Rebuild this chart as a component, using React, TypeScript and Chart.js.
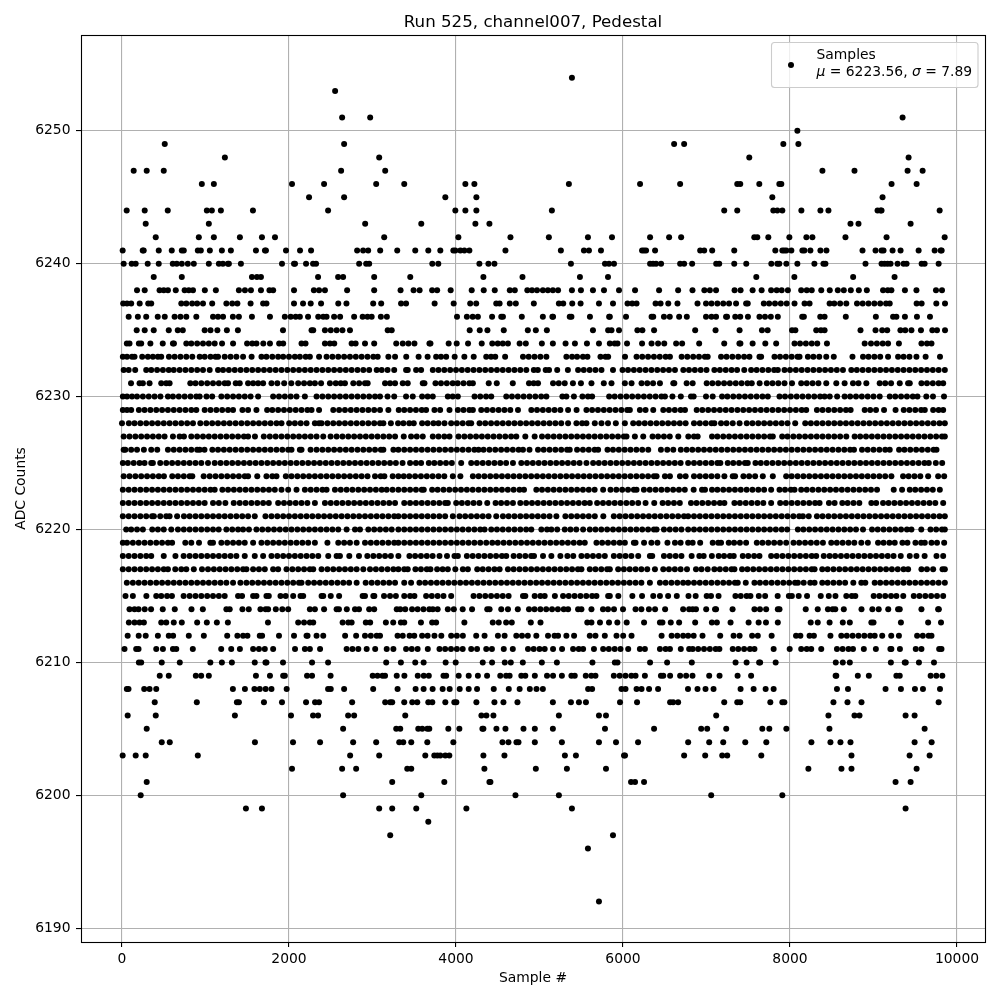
import React, { useEffect, useRef } from "react";
import { Chart, registerables } from "chart.js";

Chart.register(...registerables);

const chartTitle = "Run 525, channel007, Pedestal";
const xLabel = "Sample #";
const yLabel = "ADC Counts";
const seriesName = "Samples";
const muText = "6223.56";
const sigmaText = "7.89";
const xTicks = [0, 2000, 4000, 6000, 8000, 10000];
const yTicks = [6190, 6200, 6210, 6220, 6230, 6240, 6250];

const s6254 = [5388];
const s6253 = [2552];
const s6251 = [2636, 2972, 9348];
const s6250 = [8088];
const s6249 = [512, 2660, 6612, 6732, 7920, 8100];
const s6248 = [1232, 3080, 7512, 9420];
const s6247 = [140, 296, 500, 2624, 3152, 8388, 8772, 9408, 9588];
const s6246 = [956, 1100, 2036, 2420, 3044, 3380, 4112, 4220, 5352, 6204, 6684, 7368, 7404, 7632, 7872, 7896, 9216, 9516];
const s6245 = [2240, 2660, 3872, 4244, 7788, 9108];
const s6244 = [56, 272, 548, 1016, 1076, 1184, 1568, 2468, 3992, 4112, 4244, 5148, 7212, 7368, 7800, 7848, 7908, 8136, 8364, 8460, 9048, 9084, 9096, 9792];
const s6243 = [284, 1040, 2912, 3584, 4232, 4400, 8724, 8820, 9444];
const s6242 = [404, 920, 1100, 1412, 1676, 1832, 3140, 4028, 4652, 5112, 5580, 5868, 6324, 6552, 6696, 7572, 7608, 7740, 7992, 8196, 8268, 8664, 9156, 9852];
const s6241 = [8, 248, 260, 440, 596, 716, 740, 908, 944, 1052, 1196, 1304, 1604, 1712, 1724, 1964, 2132, 2264, 2816, 2888, 2948, 3092, 3296, 3512, 3668, 3812, 3968, 3992, 4052, 4100, 4160, 4592, 5256, 5532, 5592, 5736, 6228, 6252, 6276, 6384, 6924, 6972, 7068, 7332, 7824, 7908, 7932, 7956, 8016, 8148, 8172, 8244, 8364, 8436, 8868, 9024, 9096, 9120, 9228, 9324, 9540, 9732, 9804, 9816];
const s6240 = [20, 116, 164, 308, 440, 608, 656, 716, 788, 860, 1040, 1160, 1208, 1268, 1280, 1424, 1916, 2060, 2072, 2204, 2288, 2324, 2840, 2924, 2960, 3716, 3788, 4280, 4388, 4460, 5376, 5784, 5832, 5892, 6324, 6360, 6396, 6456, 6684, 6732, 6828, 7116, 7152, 7332, 7476, 7776, 7848, 7872, 7956, 8088, 8292, 8400, 8424, 8904, 9096, 9132, 9168, 9204, 9288, 9360, 9396, 9576, 9612, 9780];
const s6239 = [380, 716, 1556, 1616, 1664, 2348, 2588, 2648, 3020, 3452, 4328, 4796, 5484, 5820, 7596, 8052, 8756, 9252];
const s6238 = [180, 272, 450, 500, 550, 644, 750, 800, 850, 992, 1124, 1400, 1472, 1544, 1664, 1766, 1810, 2060, 2298, 2360, 2430, 2696, 3020, 3336, 3492, 3564, 3714, 3774, 3936, 4188, 4332, 4464, 4644, 4704, 4854, 4910, 4970, 5040, 5100, 5160, 5222, 5388, 5496, 5640, 5772, 5952, 6144, 6432, 6660, 6832, 6974, 7040, 7114, 7336, 7408, 7552, 7660, 7774, 7840, 7900, 7974, 8134, 8200, 8260, 8374, 8476, 8572, 8644, 8728, 8824, 8920, 9114, 9170, 9214, 9376, 9514, 9748, 9820];
const s6237 = [14, 60, 110, 212, 314, 350, 710, 770, 840, 900, 970, 1080, 1250, 1320, 1382, 1540, 1690, 1730, 2060, 2168, 2260, 2384, 2590, 2688, 3008, 3104, 3342, 3402, 3744, 3972, 4170, 4242, 4482, 4522, 4644, 4716, 4932, 5232, 5284, 5392, 5492, 5712, 5880, 6054, 6110, 6162, 6390, 6450, 6542, 6652, 6892, 6994, 7060, 7130, 7200, 7270, 7354, 7474, 7494, 7686, 7750, 7820, 7890, 7960, 8054, 8174, 8234, 8474, 8530, 8600, 8674, 8802, 8870, 8940, 9010, 9080, 9150, 9194, 9516, 9576, 9752, 9856];
const s6236 = [80, 190, 290, 428, 512, 630, 700, 770, 890, 1090, 1150, 1210, 1328, 1400, 1556, 1772, 1950, 2020, 2080, 2130, 2228, 2350, 2410, 2450, 2540, 2612, 2780, 2882, 2940, 2990, 3100, 3172, 4012, 4130, 4200, 4262, 4432, 4542, 4562, 4788, 5040, 5154, 5162, 5362, 5382, 5604, 5834, 5842, 6036, 6342, 6362, 6490, 6560, 6672, 6764, 6994, 7060, 7114, 7234, 7246, 7344, 7404, 7496, 7634, 7700, 7770, 7854, 8146, 8166, 8362, 8414, 8668, 9028, 9234, 9274, 9376, 9520, 9676];
const s6235 = [176, 272, 380, 560, 668, 728, 990, 1060, 1142, 1256, 1388, 1928, 2270, 2290, 2430, 2500, 2570, 2640, 2730, 3182, 3230, 4164, 4284, 4376, 4572, 4860, 4956, 5088, 5640, 5822, 5862, 5952, 6172, 6232, 6372, 6864, 7108, 7396, 7664, 7732, 8024, 8064, 8314, 8370, 8414, 8844, 9024, 9104, 9164, 9322, 9380, 9454, 9568, 9704, 9760, 9856];
const s6234 = [58, 90, 202, 230, 340, 488, 610, 622, 770, 830, 900, 970, 1040, 1110, 1198, 1330, 1498, 1560, 1610, 1692, 1772, 1882, 1930, 2150, 2198, 2430, 2490, 2542, 2750, 2798, 2910, 3020, 3284, 3362, 3430, 3502, 3682, 3694, 3912, 4008, 4144, 4308, 4434, 4500, 4560, 4622, 4762, 4836, 5028, 5160, 5312, 5424, 5568, 5712, 5842, 5900, 5934, 6048, 6228, 6342, 6420, 6494, 6636, 6708, 6912, 7212, 7394, 7406, 7552, 7704, 7834, 8054, 8120, 8190, 8260, 8326, 8442, 8894, 8970, 9040, 9110, 9174, 9304, 9574, 9640, 9694];
const s6233 = [10, 60, 120, 150, 242, 310, 370, 430, 470, 562, 630, 700, 770, 842, 930, 990, 1060, 1120, 1150, 1230, 1300, 1370, 1450, 1552, 1670, 1730, 1800, 1870, 1930, 2000, 2070, 2130, 2200, 2250, 2360, 2450, 2520, 2590, 2660, 2730, 2800, 2870, 2940, 3010, 3062, 3190, 3270, 3404, 3552, 3660, 3762, 3820, 3882, 3984, 4100, 4212, 4362, 4420, 4470, 4588, 4802, 4870, 4940, 5010, 5082, 5322, 5390, 5450, 5520, 5574, 5730, 5790, 5822, 6024, 6162, 6230, 6300, 6370, 6440, 6510, 6562, 6702, 6770, 6840, 6910, 6980, 7014, 7174, 7240, 7310, 7380, 7450, 7514, 7634, 7654, 7814, 7880, 7950, 8020, 8090, 8114, 8214, 8280, 8350, 8434, 8524, 8748, 8874, 8940, 9010, 9080, 9174, 9294, 9360, 9430, 9514, 9624, 9796];
const s6232 = [20, 80, 158, 290, 350, 420, 490, 560, 620, 690, 760, 830, 900, 970, 1050, 1150, 1210, 1280, 1350, 1420, 1490, 1560, 1630, 1700, 1770, 1840, 1910, 1980, 2050, 2120, 2190, 2260, 2330, 2400, 2470, 2540, 2610, 2680, 2750, 2820, 2890, 2960, 3050, 3110, 3180, 3260, 3402, 3422, 3522, 3582, 3722, 3790, 3860, 3930, 4000, 4070, 4140, 4210, 4280, 4350, 4420, 4490, 4560, 4630, 4700, 4770, 4842, 4932, 4980, 5074, 5114, 5212, 5340, 5462, 5530, 5600, 5670, 5742, 5880, 5994, 6060, 6130, 6200, 6270, 6340, 6410, 6480, 6550, 6622, 6722, 6790, 6860, 6930, 7000, 7094, 7160, 7230, 7300, 7366, 7452, 7534, 7600, 7670, 7740, 7810, 7854, 7934, 8000, 8070, 8140, 8210, 8280, 8350, 8420, 8490, 8560, 8634, 8734, 8800, 8870, 8940, 9010, 9080, 9150, 9220, 9290, 9360, 9430, 9500, 9570, 9640, 9710, 9780, 9854];
const s6231 = [108, 210, 250, 330, 470, 530, 570, 818, 880, 950, 1020, 1090, 1160, 1230, 1270, 1362, 1410, 1510, 1570, 1630, 1690, 1790, 1860, 1942, 2028, 2110, 2180, 2250, 2310, 2384, 2490, 2560, 2620, 2670, 2770, 2840, 2910, 2942, 3150, 3210, 3270, 3362, 3422, 3602, 3622, 3754, 3820, 3890, 3960, 4020, 4090, 4160, 4202, 4392, 4488, 4680, 4874, 4930, 4982, 5162, 5230, 5302, 5400, 5496, 5622, 5770, 5862, 6022, 6102, 6222, 6290, 6360, 6442, 6602, 6614, 6762, 6834, 7002, 7070, 7140, 7210, 7280, 7350, 7420, 7490, 7542, 7636, 7722, 7790, 7860, 7934, 8024, 8134, 8200, 8270, 8340, 8434, 8554, 8654, 8754, 8820, 8914, 9074, 9140, 9210, 9314, 9414, 9434, 9574, 9640, 9710, 9780, 9834];
const s6230 = [10, 60, 120, 180, 250, 320, 390, 460, 550, 610, 680, 750, 820, 890, 930, 1012, 1080, 1190, 1260, 1330, 1400, 1470, 1540, 1630, 1810, 1880, 1950, 2020, 2090, 2190, 2330, 2400, 2470, 2540, 2610, 2680, 2750, 2820, 2890, 2960, 3030, 3090, 3180, 3260, 3402, 3482, 3594, 3660, 3722, 3902, 3960, 4022, 4222, 4290, 4360, 4422, 4602, 4670, 4740, 4810, 4880, 4950, 5020, 5082, 5274, 5322, 5412, 5514, 5580, 5630, 5834, 5900, 5970, 6040, 6110, 6180, 6250, 6320, 6390, 6460, 6502, 6592, 6692, 6814, 6846, 6994, 7074, 7186, 7250, 7320, 7390, 7460, 7530, 7600, 7670, 7734, 7874, 7940, 8010, 8080, 8150, 8220, 8290, 8360, 8414, 8476, 8564, 8654, 8720, 8790, 8860, 8930, 9000, 9074, 9194, 9260, 9330, 9400, 9470, 9526, 9632, 9712, 9844];
const s6229 = [10, 60, 110, 202, 270, 340, 410, 480, 550, 620, 690, 760, 830, 890, 990, 1060, 1130, 1200, 1270, 1330, 1442, 1510, 1610, 1738, 1800, 1870, 1940, 2010, 2080, 2150, 2220, 2270, 2360, 2530, 2600, 2670, 2740, 2810, 2880, 2950, 3020, 3090, 3190, 3314, 3380, 3450, 3520, 3590, 3642, 3742, 3810, 3922, 4022, 4090, 4160, 4202, 4302, 4370, 4440, 4510, 4580, 4650, 4742, 4902, 4970, 5040, 5110, 5180, 5250, 5342, 5444, 5562, 5630, 5700, 5770, 5840, 5910, 5980, 6050, 6082, 6202, 6270, 6362, 6482, 6550, 6620, 6690, 6742, 6882, 6950, 7020, 7090, 7160, 7230, 7300, 7370, 7440, 7510, 7580, 7650, 7720, 7790, 7860, 7930, 8000, 8070, 8140, 8194, 8322, 8390, 8460, 8530, 8600, 8670, 8726, 8894, 8960, 9030, 9126, 9264, 9362, 9430, 9500, 9570, 9614, 9714, 9780, 9834];
const s6228 = [0, 82, 150, 220, 290, 360, 430, 500, 570, 640, 710, 780, 850, 938, 1010, 1080, 1150, 1220, 1290, 1360, 1430, 1500, 1570, 1640, 1710, 1780, 1850, 1910, 2002, 2070, 2140, 2210, 2310, 2360, 2390, 2460, 2530, 2600, 2670, 2740, 2810, 2880, 2950, 3020, 3090, 3130, 3220, 3306, 3370, 3440, 3494, 3594, 3660, 3730, 3790, 3862, 3942, 4010, 4080, 4150, 4182, 4282, 4350, 4420, 4490, 4560, 4630, 4700, 4770, 4840, 4910, 4980, 5050, 5120, 5190, 5260, 5342, 5442, 5510, 5562, 5662, 5742, 5820, 5914, 6022, 6122, 6190, 6260, 6330, 6400, 6470, 6540, 6610, 6680, 6750, 6850, 6920, 6990, 7060, 7094, 7174, 7240, 7314, 7396, 7482, 7550, 7620, 7690, 7760, 7830, 7900, 7970, 8062, 8182, 8250, 8320, 8390, 8460, 8530, 8600, 8670, 8740, 8810, 8880, 8950, 9020, 9090, 9160, 9230, 9300, 9370, 9440, 9510, 9580, 9650, 9720, 9790, 9854];
const s6227 = [20, 90, 160, 230, 300, 370, 440, 510, 610, 690, 742, 830, 900, 970, 1040, 1110, 1180, 1250, 1320, 1390, 1460, 1510, 1592, 1698, 1770, 1840, 1910, 1980, 2050, 2120, 2190, 2260, 2330, 2410, 2498, 2570, 2640, 2710, 2780, 2850, 2920, 2990, 3060, 3130, 3200, 3270, 3374, 3462, 3530, 3602, 3722, 3790, 3860, 3922, 4030, 4100, 4170, 4240, 4310, 4380, 4450, 4520, 4590, 4660, 4722, 4830, 4942, 5030, 5100, 5170, 5240, 5310, 5380, 5450, 5520, 5590, 5660, 5730, 5800, 5870, 5940, 6010, 6042, 6142, 6242, 6354, 6420, 6490, 6560, 6662, 6782, 6850, 6894, 7066, 7130, 7200, 7270, 7340, 7410, 7480, 7550, 7620, 7690, 7760, 7794, 7906, 7970, 8040, 8110, 8180, 8250, 8320, 8390, 8460, 8530, 8600, 8674, 8774, 8840, 8910, 8980, 9050, 9120, 9190, 9260, 9330, 9400, 9470, 9540, 9610, 9680, 9750, 9820, 9854];
const s6226 = [20, 40, 110, 180, 262, 350, 422, 550, 620, 690, 760, 830, 900, 930, 988, 1082, 1150, 1220, 1290, 1360, 1430, 1500, 1570, 1640, 1710, 1780, 1850, 1920, 1990, 2030, 2130, 2150, 2258, 2330, 2400, 2470, 2540, 2610, 2680, 2750, 2820, 2890, 2960, 3030, 3100, 3130, 3250, 3310, 3380, 3450, 3520, 3590, 3660, 3730, 3800, 3870, 3940, 4010, 4080, 4150, 4220, 4270, 4330, 4400, 4470, 4540, 4610, 4680, 4750, 4802, 4880, 4982, 5050, 5120, 5190, 5260, 5330, 5362, 5450, 5520, 5590, 5660, 5702, 5814, 5880, 5950, 6020, 6090, 6160, 6230, 6302, 6454, 6530, 6602, 6692, 6762, 6830, 6900, 6970, 7040, 7110, 7180, 7250, 7320, 7390, 7460, 7530, 7600, 7670, 7740, 7810, 7880, 7950, 8020, 8090, 8160, 8230, 8300, 8370, 8440, 8510, 8580, 8650, 8720, 8766, 8862, 8930, 9000, 9070, 9140, 9194, 9306, 9370, 9440, 9510, 9580, 9650, 9720, 9754];
const s6225 = [10, 70, 140, 210, 270, 350, 370, 458, 530, 600, 670, 740, 810, 880, 950, 1030, 1110, 1180, 1250, 1320, 1390, 1460, 1530, 1600, 1670, 1740, 1810, 1880, 1950, 2020, 2090, 2160, 2230, 2300, 2370, 2440, 2510, 2580, 2650, 2720, 2790, 2860, 2930, 3000, 3070, 3140, 3210, 3280, 3360, 3450, 3520, 3582, 3674, 3740, 3810, 3880, 3950, 4062, 4182, 4250, 4320, 4390, 4460, 4530, 4600, 4682, 4782, 4850, 4920, 4990, 5060, 5130, 5200, 5270, 5340, 5410, 5480, 5562, 5642, 5710, 5780, 5850, 5920, 5990, 6060, 6130, 6200, 6270, 6340, 6410, 6480, 6550, 6620, 6690, 6780, 6850, 6920, 6990, 7060, 7130, 7166, 7254, 7320, 7390, 7460, 7494, 7586, 7650, 7720, 7790, 7860, 7930, 8000, 8070, 8140, 8210, 8280, 8350, 8420, 8490, 8560, 8630, 8700, 8770, 8840, 8910, 8980, 9050, 9120, 9190, 9260, 9330, 9400, 9470, 9540, 9610, 9662, 9746, 9822];
const s6224 = [20, 90, 160, 230, 300, 370, 440, 502, 602, 670, 740, 810, 842, 978, 1050, 1120, 1190, 1260, 1330, 1400, 1470, 1510, 1620, 1730, 1800, 1850, 1962, 2030, 2100, 2170, 2240, 2310, 2380, 2450, 2520, 2590, 2660, 2730, 2800, 2870, 2940, 3030, 3098, 3142, 3242, 3310, 3374, 3440, 3510, 3580, 3650, 3720, 3790, 3860, 3962, 4052, 4202, 4270, 4340, 4410, 4480, 4550, 4620, 4690, 4760, 4830, 4900, 4970, 5040, 5110, 5180, 5250, 5320, 5390, 5460, 5530, 5600, 5670, 5740, 5810, 5880, 5950, 6020, 6090, 6160, 6230, 6300, 6370, 6402, 6502, 6562, 6682, 6750, 6850, 6920, 6990, 7060, 7130, 7214, 7314, 7342, 7442, 7510, 7582, 7674, 7794, 7954, 8020, 8090, 8160, 8230, 8300, 8370, 8440, 8510, 8580, 8650, 8720, 8790, 8860, 8930, 9000, 9070, 9140, 9214, 9354, 9420, 9490, 9560, 9654, 9774, 9846];
const s6223 = [10, 80, 150, 220, 290, 360, 430, 500, 570, 640, 710, 780, 850, 920, 990, 1060, 1110, 1202, 1270, 1340, 1410, 1480, 1550, 1620, 1690, 1760, 1830, 1910, 1990, 2090, 2190, 2260, 2330, 2400, 2450, 2550, 2620, 2690, 2760, 2830, 2900, 2970, 3040, 3110, 3170, 3240, 3310, 3380, 3450, 3520, 3590, 3614, 3714, 3780, 3850, 3920, 3990, 4060, 4130, 4200, 4270, 4340, 4410, 4480, 4550, 4620, 4690, 4760, 4814, 4962, 5030, 5100, 5170, 5240, 5310, 5380, 5450, 5520, 5590, 5660, 5762, 5850, 5920, 5990, 6060, 6130, 6162, 6250, 6320, 6390, 6460, 6530, 6600, 6670, 6740, 6846, 6946, 6982, 7066, 7130, 7200, 7270, 7340, 7410, 7480, 7550, 7620, 7690, 7774, 7874, 7940, 8010, 8054, 8134, 8200, 8270, 8340, 8410, 8480, 8550, 8620, 8690, 8760, 8830, 8900, 8970, 9042, 9242, 9342, 9434, 9500, 9570, 9640, 9710, 9794];
const s6222 = [10, 80, 150, 220, 290, 360, 430, 500, 570, 640, 710, 780, 850, 920, 990, 1090, 1160, 1238, 1338, 1410, 1480, 1550, 1620, 1690, 1758, 1870, 1940, 2010, 2080, 2150, 2220, 2310, 2430, 2500, 2570, 2640, 2710, 2780, 2850, 2920, 2990, 3060, 3130, 3200, 3270, 3380, 3450, 3520, 3590, 3660, 3730, 3800, 3870, 3902, 4002, 4070, 4140, 4210, 4280, 4374, 4474, 4540, 4610, 4682, 4770, 4840, 4910, 4980, 5050, 5120, 5190, 5260, 5330, 5400, 5470, 5540, 5602, 5690, 5760, 5830, 5900, 5970, 6040, 6110, 6182, 6270, 6374, 6474, 6540, 6610, 6680, 6814, 6880, 6950, 7020, 7090, 7160, 7214, 7334, 7400, 7470, 7540, 7610, 7680, 7774, 7882, 7950, 8020, 8090, 8160, 8230, 8300, 8354, 8466, 8534, 8626, 8690, 8760, 8830, 8974, 9032, 9114, 9180, 9250, 9320, 9390, 9460, 9530, 9600, 9670, 9740, 9834];
const s6221 = [10, 80, 150, 220, 290, 360, 382, 458, 530, 570, 660, 742, 810, 880, 950, 1020, 1090, 1160, 1230, 1300, 1370, 1440, 1510, 1590, 1718, 1790, 1860, 1930, 2000, 2070, 2140, 2210, 2280, 2350, 2420, 2490, 2560, 2630, 2700, 2770, 2840, 2910, 2980, 3050, 3120, 3190, 3260, 3310, 3380, 3450, 3520, 3590, 3660, 3730, 3800, 3870, 3962, 4042, 4110, 4180, 4250, 4320, 4390, 4482, 4562, 4630, 4700, 4770, 4840, 4910, 4980, 5050, 5120, 5202, 5310, 5380, 5450, 5520, 5590, 5662, 5764, 5890, 5960, 6030, 6100, 6170, 6240, 6310, 6380, 6450, 6520, 6590, 6660, 6730, 6780, 6850, 6920, 6990, 7060, 7130, 7200, 7270, 7340, 7410, 7480, 7550, 7620, 7690, 7760, 7830, 7900, 7970, 8040, 8110, 8154, 8224, 8322, 8390, 8460, 8530, 8600, 8670, 8740, 8810, 8880, 8950, 9020, 9090, 9160, 9230, 9300, 9370, 9440, 9510, 9580, 9650, 9720, 9790, 9854];
const s6220 = [50, 110, 180, 250, 362, 430, 500, 590, 670, 740, 810, 880, 950, 1020, 1090, 1158, 1250, 1320, 1390, 1450, 1520, 1610, 1680, 1750, 1820, 1890, 1960, 2030, 2100, 2170, 2240, 2310, 2380, 2450, 2520, 2590, 2690, 2790, 2850, 2950, 3020, 3090, 3160, 3230, 3310, 3380, 3450, 3520, 3590, 3660, 3730, 3800, 3870, 3940, 4010, 4080, 4150, 4220, 4290, 4342, 4422, 4490, 4560, 4630, 4700, 4770, 4840, 4902, 5022, 5090, 5142, 5212, 5302, 5370, 5440, 5522, 5602, 5670, 5740, 5810, 5880, 5950, 6020, 6090, 6160, 6230, 6300, 6370, 6402, 6490, 6560, 6630, 6700, 6780, 6850, 6920, 6990, 7060, 7130, 7200, 7270, 7340, 7410, 7480, 7550, 7620, 7690, 7760, 7830, 7900, 7966, 8094, 8160, 8230, 8300, 8370, 8440, 8510, 8580, 8650, 8720, 8790, 8874, 8982, 9050, 9120, 9190, 9260, 9330, 9400, 9454, 9572, 9682, 9750, 9820, 9854];
const s6219 = [10, 60, 130, 200, 270, 340, 410, 480, 550, 600, 758, 830, 922, 1058, 1090, 1190, 1260, 1330, 1400, 1470, 1570, 1670, 1740, 1810, 1880, 1950, 2020, 2090, 2160, 2230, 2310, 2460, 2590, 2660, 2730, 2810, 2910, 2980, 3050, 3120, 3190, 3260, 3310, 3380, 3450, 3520, 3590, 3660, 3730, 3800, 3870, 3940, 4010, 4080, 4150, 4220, 4290, 4362, 4434, 4500, 4570, 4640, 4710, 4780, 4850, 4920, 4990, 5060, 5130, 5200, 5270, 5340, 5410, 5480, 5542, 5682, 5750, 5820, 5890, 5960, 6022, 6130, 6150, 6252, 6340, 6412, 6532, 6622, 6690, 6780, 6834, 6924, 7074, 7140, 7174, 7266, 7330, 7400, 7474, 7602, 7670, 7740, 7810, 7880, 7954, 8042, 8110, 8180, 8250, 8320, 8394, 8494, 8560, 8630, 8700, 8770, 8854, 8932, 9054, 9120, 9190, 9254, 9346, 9406, 9502, 9570, 9614, 9694, 9760, 9846];
const s6218 = [10, 80, 150, 220, 290, 350, 500, 640, 738, 810, 880, 950, 1020, 1090, 1160, 1230, 1300, 1370, 1470, 1590, 1690, 1790, 1860, 1930, 2000, 2070, 2140, 2210, 2280, 2350, 2470, 2570, 2610, 2722, 2838, 2938, 3010, 3080, 3150, 3220, 3310, 3442, 3510, 3580, 3650, 3720, 3802, 3892, 3982, 4022, 4130, 4200, 4270, 4340, 4410, 4480, 4550, 4602, 4690, 4760, 4830, 4900, 4934, 5042, 5142, 5250, 5334, 5404, 5502, 5570, 5640, 5710, 5782, 5890, 5960, 6030, 6100, 6182, 6322, 6350, 6490, 6560, 6630, 6700, 6822, 6914, 6966, 7064, 7146, 7210, 7280, 7326, 7434, 7500, 7570, 7634, 7774, 7840, 7910, 7980, 8050, 8120, 8190, 8260, 8314, 8404, 8474, 8540, 8610, 8680, 8750, 8820, 8890, 8960, 9030, 9100, 9170, 9240, 9326, 9434, 9514, 9612, 9754, 9834];
const s6217 = [10, 80, 150, 220, 290, 360, 430, 500, 550, 638, 710, 770, 860, 958, 1030, 1100, 1170, 1240, 1310, 1380, 1450, 1490, 1570, 1640, 1710, 1810, 1870, 1970, 2040, 2110, 2180, 2250, 2290, 2390, 2460, 2530, 2600, 2670, 2740, 2810, 2890, 2970, 3040, 3110, 3180, 3250, 3310, 3380, 3422, 3514, 3580, 3650, 3694, 3774, 3840, 3902, 3992, 4082, 4142, 4254, 4320, 4390, 4460, 4522, 4622, 4690, 4760, 4830, 4900, 4970, 5040, 5110, 5180, 5250, 5320, 5390, 5460, 5502, 5602, 5670, 5740, 5810, 5842, 5942, 6010, 6080, 6150, 6220, 6290, 6382, 6482, 6550, 6620, 6690, 6766, 6874, 6940, 7014, 7094, 7160, 7230, 7300, 7334, 7426, 7490, 7560, 7630, 7700, 7770, 7840, 7910, 7980, 8050, 8120, 8190, 8260, 8294, 8386, 8450, 8520, 8590, 8660, 8730, 8800, 8870, 8940, 9010, 9080, 9150, 9220, 9290, 9360, 9414, 9574, 9640, 9714, 9826, 9854];
const s6216 = [58, 130, 200, 270, 340, 410, 480, 550, 620, 690, 760, 830, 900, 970, 1040, 1110, 1180, 1250, 1330, 1418, 1490, 1560, 1630, 1700, 1770, 1840, 1910, 1980, 2050, 2120, 2150, 2230, 2300, 2370, 2440, 2510, 2580, 2650, 2720, 2810, 2918, 2990, 3060, 3130, 3200, 3270, 3380, 3462, 3562, 3630, 3700, 3770, 3840, 3910, 3980, 4050, 4120, 4190, 4260, 4330, 4400, 4470, 4540, 4610, 4680, 4750, 4820, 4890, 4960, 5030, 5100, 5170, 5240, 5310, 5380, 5450, 5520, 5590, 5660, 5730, 5800, 5870, 5940, 6010, 6080, 6150, 6220, 6322, 6442, 6510, 6580, 6650, 6720, 6780, 6850, 6920, 6990, 7060, 7130, 7200, 7270, 7340, 7374, 7470, 7574, 7640, 7710, 7780, 7850, 7920, 7990, 8060, 8094, 8164, 8242, 8294, 8386, 8450, 8520, 8590, 8660, 8758, 8854, 8902, 9014, 9080, 9150, 9220, 9290, 9360, 9430, 9500, 9570, 9640, 9710, 9780, 9854];
const s6215 = [42, 130, 292, 410, 470, 540, 598, 738, 810, 880, 950, 1020, 1090, 1160, 1230, 1390, 1438, 1570, 1610, 1730, 1758, 1898, 1960, 2050, 2138, 2170, 2390, 2410, 2500, 2600, 2882, 2910, 3010, 3022, 3138, 3210, 3280, 3380, 3450, 3502, 3642, 3710, 3780, 3850, 3942, 4210, 4280, 4350, 4420, 4490, 4560, 4630, 4802, 4830, 4942, 5010, 5062, 5184, 5282, 5350, 5420, 5490, 5560, 5630, 5682, 5822, 5842, 5944, 6112, 6228, 6362, 6442, 6540, 6644, 6784, 6870, 7002, 7054, 7144, 7346, 7410, 7480, 7526, 7626, 7702, 7852, 7986, 8022, 8104, 8204, 8368, 8464, 8544, 8674, 8740, 8782, 9002, 9070, 9140, 9210, 9274, 9356, 9482, 9550, 9620, 9690, 9760, 9834];
const s6214 = [90, 150, 198, 272, 348, 488, 632, 832, 968, 1250, 1290, 1442, 1518, 1658, 1720, 1750, 1842, 1920, 1990, 2250, 2310, 2420, 2570, 2598, 2692, 2790, 2838, 2960, 3020, 3290, 3332, 3392, 3474, 3540, 3610, 3680, 3722, 3780, 3902, 3974, 4080, 4192, 4374, 4402, 4542, 4622, 4740, 4874, 4940, 5010, 5080, 5150, 5220, 5290, 5342, 5462, 5502, 5622, 5760, 5820, 5892, 6000, 6150, 6220, 6310, 6384, 6504, 6720, 6792, 6834, 6874, 6996, 7114, 7102, 7312, 7574, 7640, 7714, 7854, 7874, 8188, 8332, 8454, 8510, 8542, 8644, 8856, 8986, 9062, 9176, 9294, 9314, 9574, 9774, 9782];
const s6213 = [82, 150, 210, 262, 470, 530, 620, 716, 900, 1016, 1136, 1268, 1748, 2110, 2180, 2250, 2290, 2642, 2710, 2750, 2920, 2972, 3160, 3248, 3340, 3380, 3580, 3714, 3762, 4100, 4440, 4512, 4600, 4668, 4896, 5012, 5572, 5622, 5724, 5832, 5932, 6044, 6252, 6442, 6472, 6572, 6672, 6864, 7064, 7124, 7288, 7504, 7624, 7712, 7854, 8248, 8332, 8474, 8632, 8716, 8974, 9000, 9328, 9654, 9808];
const s6212 = [68, 200, 284, 430, 560, 612, 800, 980, 1260, 1382, 1450, 1502, 1650, 1678, 1880, 2060, 2210, 2222, 2330, 2410, 2672, 2804, 2910, 2980, 3050, 3090, 3300, 3362, 3444, 3500, 3594, 3660, 3742, 3824, 3942, 4010, 4082, 4242, 4342, 4502, 4582, 4722, 4790, 4860, 4962, 5102, 5180, 5222, 5322, 5414, 5602, 5670, 5782, 5922, 6002, 6102, 6462, 6582, 6650, 6720, 6780, 6846, 6952, 7164, 7324, 7396, 7546, 7614, 7780, 8072, 8124, 8234, 8286, 8484, 8614, 8680, 8750, 8820, 8890, 8960, 9014, 9104, 9212, 9304, 9522, 9590, 9660, 9694];
const s6211 = [30, 170, 198, 410, 490, 610, 650, 848, 1188, 1308, 1412, 1570, 1640, 1710, 1810, 2072, 2190, 2250, 2372, 2690, 2760, 2830, 2930, 3032, 3170, 3250, 3402, 3470, 3540, 3662, 3802, 3870, 3940, 4010, 4080, 4182, 4252, 4362, 4430, 4572, 4680, 4862, 4930, 5000, 5062, 5162, 5270, 5402, 5470, 5522, 5652, 5762, 5830, 5900, 5970, 6062, 6202, 6262, 6442, 6510, 6562, 6692, 6792, 6834, 6900, 6970, 7040, 7110, 7154, 7314, 7380, 7450, 7520, 7574, 7804, 7996, 8134, 8200, 8254, 8374, 8562, 8630, 8700, 8754, 8884, 9028, 9202, 9214, 9316, 9506, 9574, 9786, 9814];
const s6210 = [202, 230, 476, 692, 1058, 1196, 1316, 1590, 1718, 1730, 1928, 2276, 2468, 3164, 3340, 3512, 3612, 3876, 3996, 4320, 4432, 4584, 4656, 4800, 5028, 5208, 5634, 5902, 5934, 6324, 6528, 6824, 7348, 7480, 7642, 7630, 7828, 8548, 8632, 8716, 9208, 9386, 9374, 9544, 9724];
const s6209 = [452, 560, 884, 948, 1040, 1604, 1772, 1930, 1950, 2216, 2276, 2498, 3002, 3060, 3120, 3150, 3290, 3382, 3542, 3614, 3674, 3850, 3882, 4032, 4152, 4262, 4372, 4530, 4600, 4642, 4782, 4830, 4944, 5090, 5162, 5268, 5382, 5422, 5554, 5620, 5670, 5890, 5960, 6030, 6100, 6150, 6262, 6454, 6482, 6564, 6684, 6756, 6832, 7032, 7156, 7372, 7534, 8546, 8554, 8812, 8944, 9274, 9314, 9684, 9752, 9824];
const s6208 = [58, 78, 266, 330, 410, 1328, 1472, 1586, 1650, 1720, 1790, 1972, 2468, 2500, 2660, 3008, 3300, 3516, 3612, 3720, 3840, 3924, 4044, 4152, 4252, 4452, 4632, 4762, 4884, 4964, 5040, 5582, 5630, 5982, 6030, 6162, 6222, 6312, 6420, 6778, 6892, 6988, 7084, 7408, 7564, 7708, 7804, 8562, 8694, 9144, 9328, 9496, 9592, 9796];
const s6207 = [392, 896, 1376, 1400, 1700, 1916, 2204, 2312, 2360, 2756, 3152, 3212, 3236, 3380, 3476, 3536, 3668, 3716, 3872, 3980, 4004, 4244, 4460, 4568, 4736, 5160, 5376, 5472, 5556, 5964, 6168, 6564, 6600, 6660, 7212, 7368, 7404, 7764, 7908, 7932, 8520, 8688, 8856, 9780];
const s6206 = [68, 404, 1352, 2024, 2288, 2348, 2708, 2780, 3392, 4304, 4364, 4448, 5232, 5712, 5796, 7116, 8460, 8772, 8832, 9384, 9492];
const s6205 = [296, 2648, 3284, 3332, 3548, 3596, 3656, 3680, 3908, 4040, 4316, 4328, 4484, 4592, 4808, 4944, 5160, 5784, 6372, 6936, 7008, 7236, 7668, 7752, 7956, 8472, 9612];
const s6204 = [476, 572, 1592, 2048, 2372, 2768, 3044, 3320, 3368, 3464, 3656, 3968, 4556, 4628, 4724, 4748, 4944, 5268, 5712, 5916, 6180, 6780, 7032, 7200, 7464, 7716, 8256, 8484, 8604, 8724, 9492, 9696];
const s6203 = [8, 164, 284, 908, 2732, 3080, 3632, 3740, 3776, 3812, 3872, 3920, 4328, 4580, 5304, 5436, 6012, 6024, 6732, 6984, 7188, 7248, 7656, 8736, 9432, 9672];
const s6202 = [2036, 2636, 2804, 3416, 3464, 4340, 4956, 5328, 5796, 8220, 8616, 8736, 9516];
const s6201 = [296, 3236, 3860, 4400, 4412, 6096, 6144, 6252, 9264, 9444];
const s6200 = [224, 2648, 3584, 4712, 5232, 7056, 7908];
const s6199 = [1484, 1676, 3080, 3236, 3524, 4124, 5388, 9384];
const s6198 = [3668];
const s6197 = [3212, 5880];
const s6196 = [5580];
const s6192 = [5712];

const sampleRows: [number, number[]][] = [
  [6254, s6254], [6253, s6253], [6251, s6251], [6250, s6250], [6249, s6249], [6248, s6248], [6247, s6247],
  [6246, s6246], [6245, s6245], [6244, s6244], [6243, s6243], [6242, s6242], [6241, s6241], [6240, s6240], [6239, s6239],
  [6238, s6238], [6237, s6237], [6236, s6236], [6235, s6235], [6234, s6234], [6233, s6233], [6232, s6232], [6231, s6231],
  [6230, s6230], [6229, s6229], [6228, s6228], [6227, s6227], [6226, s6226], [6225, s6225], [6224, s6224], [6223, s6223],
  [6222, s6222], [6221, s6221], [6220, s6220], [6219, s6219], [6218, s6218], [6217, s6217], [6216, s6216], [6215, s6215],
  [6214, s6214], [6213, s6213], [6212, s6212], [6211, s6211], [6210, s6210], [6209, s6209], [6208, s6208], [6207, s6207],
  [6206, s6206], [6205, s6205], [6204, s6204], [6203, s6203], [6202, s6202], [6201, s6201], [6200, s6200], [6199, s6199],
  [6198, s6198], [6197, s6197], [6196, s6196], [6192, s6192],
];

const points = sampleRows.flatMap(([adc, samples]) => samples.map((x) => ({ x, y: adc })));
const FONT = "'DejaVu Sans'";
const BASE_SIZE = 13.89;

const framePlugin = {
  id: "frame",
  afterDatasetsDraw(chart: any) {
    const { ctx, chartArea: a } = chart;
    ctx.save();
    ctx.strokeStyle = "#000";
    ctx.lineWidth = 1.1;
    ctx.strokeRect(a.left + 0.5, a.top + 0.5, a.right - a.left, a.bottom - a.top);
    const bx = 771.5, by = 42.5, bw = 206.5, bh = 45, r = 3;
    ctx.beginPath();
    ctx.roundRect(bx, by, bw, bh, r);
    ctx.fillStyle = "rgba(255,255,255,0.8)";
    ctx.fill();
    ctx.strokeStyle = "#cccccc";
    ctx.lineWidth = 1.1;
    ctx.stroke();
    ctx.fillStyle = "#000";
    ctx.beginPath();
    ctx.arc(791, 65, 3, 0, Math.PI * 2);
    ctx.fill();
    ctx.textBaseline = "alphabetic";
    ctx.textAlign = "left";
    ctx.font = `${BASE_SIZE}px ${FONT}`;
    ctx.fillText(seriesName, 816.5, 59);
    const runs: [string, boolean][] = [
      ["μ", true],
      [` = ${muText}, `, false],
      ["σ", true],
      [` = ${sigmaText}`, false],
    ];
    let tx = 816.5;
    for (const [t, italic] of runs) {
      ctx.font = `${italic ? "italic " : ""}${BASE_SIZE}px ${FONT}`;
      ctx.fillText(t, tx, 76);
      tx += ctx.measureText(t).width;
    }
    ctx.restore();
  },
};

export default function App() {
  const ref = useRef<HTMLCanvasElement>(null);
  useEffect(() => {
    document.body.style.margin = "0";
    const chart = new Chart(ref.current!, {
      type: "scatter",
      data: {
        datasets: [
          {
            label: seriesName,
            data: points,
            backgroundColor: "#000",
            borderWidth: 0,
            pointRadius: 3,
          },
        ],
      },
      plugins: [framePlugin],
      options: {
        animation: false,
        responsive: false,
        layout: { autoPadding: false, padding: { top: 0, right: 15, bottom: 0, left: 0 } },
        plugins: {
          legend: { display: false },
          tooltip: { enabled: false },
          title: {
            display: true,
            fullSize: false,
            text: chartTitle,
            color: "#000",
            font: { family: FONT, size: 16.67, weight: "normal" },
            padding: { top: 13, bottom: 2 },
          },
        },
        scales: {
          x: {
            type: "linear",
            min: -491,
            max: 10335,
            afterBuildTicks: (s: any) => { s.ticks = xTicks.map((value) => ({ value })); },
            afterFit: (s: any) => { s.height = 58; },
            ticks: {
              autoSkip: false,
              maxRotation: 0,
              color: "#000",
              padding: 4,
              font: { family: FONT, size: BASE_SIZE },
              callback: (v: any) => String(v),
            },
            grid: { color: "#b0b0b0", lineWidth: 1.1, tickColor: "#000", tickLength: 5 },
            border: { display: false },
            title: {
              display: true,
              text: xLabel,
              color: "#000",
              font: { family: FONT, size: BASE_SIZE },
              padding: { top: 4, bottom: 13.6 },
            },
          },
          y: {
            type: "linear",
            min: 6188.96,
            max: 6257.21,
            afterBuildTicks: (s: any) => { s.ticks = yTicks.map((value) => ({ value })); },
            afterFit: (s: any) => { s.width = 81; },
            ticks: {
              autoSkip: false,
              color: "#000",
              padding: 5.5,
              font: { family: FONT, size: BASE_SIZE },
              callback: (v: any) => String(v),
            },
            grid: { color: "#b0b0b0", lineWidth: 1.1, tickColor: "#000", tickLength: 5 },
            border: { display: false },
            title: {
              display: true,
              text: yLabel,
              color: "#000",
              font: { family: FONT, size: BASE_SIZE },
              padding: { top: 12.7, bottom: 0 },
            },
          },
        },
      },
    } as any);
    return () => chart.destroy();
  }, []);
  return (
    <div style={{ position: "absolute", left: 0, top: 0, width: 1000, height: 1000 }}>
      <canvas ref={ref} width={1000} height={1000} style={{ display: "block" }} />
    </div>
  );
}
